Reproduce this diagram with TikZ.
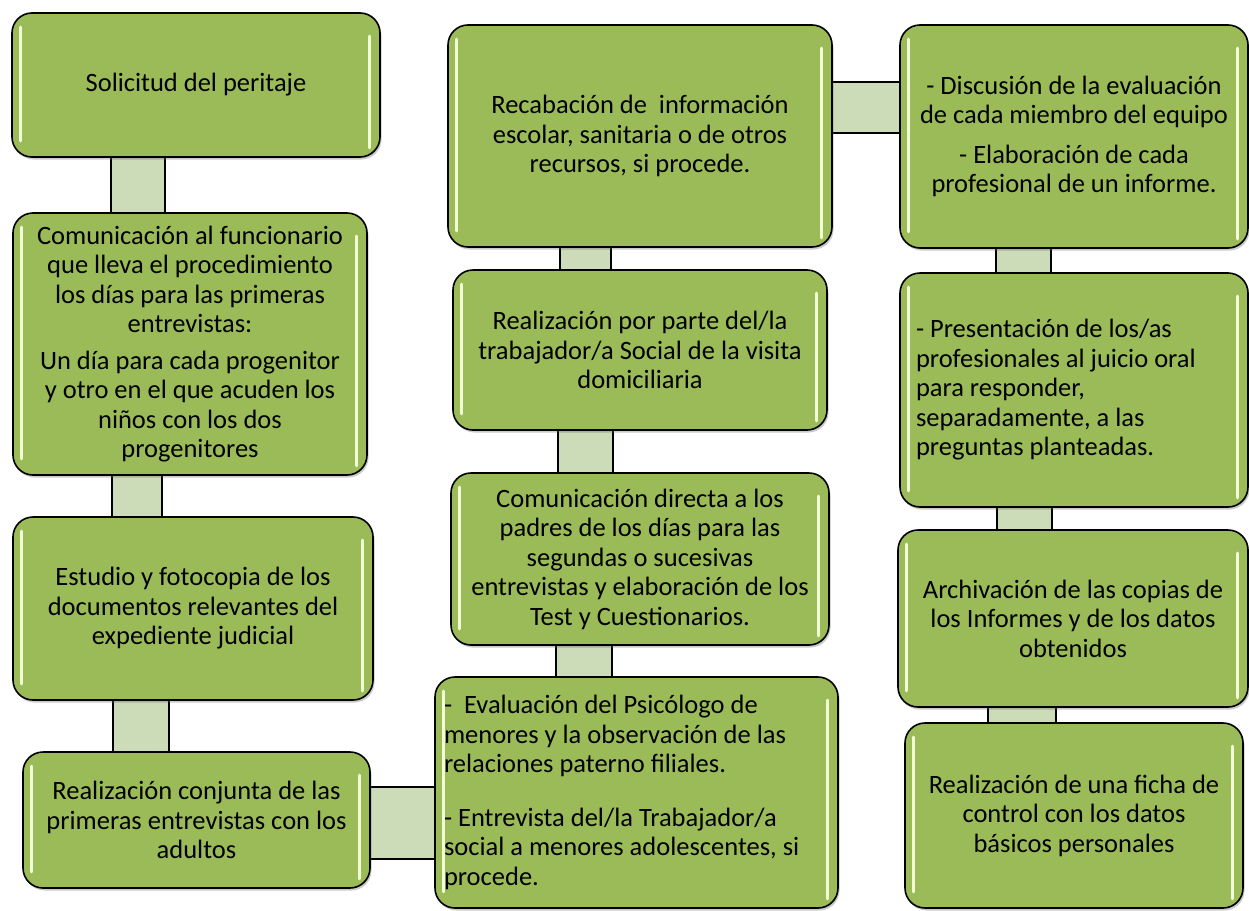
\documentclass[tikz,border=0pt]{standalone}
\usepackage{fontspec}
\setmainfont{Carlito}
\usetikzlibrary{shadows}
\definecolor{boxgreen}{HTML}{9BBB59}
\definecolor{conngreen}{HTML}{CCDBB8}
\definecolor{glow}{HTML}{F2FFD6}
\tikzset{
  box/.style={draw=black, line width=1.6pt, fill=boxgreen, rounded corners=20pt,
    inner sep=0pt, align=center, font=\fontsize{26.5pt}{29.5pt}\selectfont,
    drop shadow={shadow xshift=1.5pt, shadow yshift=-2.5pt, opacity=0.35, fill=black!60}},
  leftbox/.style={box, align=flush left},
  conn/.style={draw=black, line width=1.5pt, fill=conngreen},
  hlbar/.style={draw=glow, line width=3pt, line cap=round}
}
\newcommand\glossbars[1]{%
  \draw[hlbar] ([xshift=9pt,yshift=-15pt]#1.north west) -- ([xshift=9pt,yshift=17pt]#1.south west);
  \draw[hlbar] ([xshift=-11pt,yshift=-24pt]#1.north east) -- ([xshift=-11pt,yshift=10pt]#1.south east);
}
\begin{document}
\begin{tikzpicture}[x=1pt,y=-1pt]
\useasboundingbox (0,0) rectangle (1249,910);
% connectors (drawn first, boxes cover their ends)
\coordinate (cab1) at (111,150); \coordinate (cab2) at (165,220);
\coordinate (cbc1) at (112,470); \coordinate (cbc2) at (162,522);
\coordinate (ccd1) at (113,695); \coordinate (ccd2) at (169,757);
\coordinate (cdi1) at (365,787); \coordinate (cdi2) at (440,859);
\coordinate (cfg1) at (560,242); \coordinate (cfg2) at (611,275);
\coordinate (cgh1) at (558,425); \coordinate (cgh2) at (613,478);
\coordinate (chi1) at (556,640); \coordinate (chi2) at (612,682);
\coordinate (cfj1) at (827,82);  \coordinate (cfj2) at (907,133);
\coordinate (cjk1) at (996,243); \coordinate (cjk2) at (1051,278);
\coordinate (ckl1) at (997,502); \coordinate (ckl2) at (1052,535);
\coordinate (clm1) at (988,702); \coordinate (clm2) at (1056,728);
\foreach \c in {ab,bc,cd,di,fg,gh,hi,fj,jk,kl,lm}
  {\draw[conn] (c\c1) rectangle (c\c2);}

% column 1
\node[box, minimum width=368pt, minimum height=144pt] (a) at (196,85)
  {Solicitud del peritaje};
\node[box, minimum width=354pt, minimum height=262pt] (b) at (190,344)
  {Comunicación al funcionario\\que lleva el procedimiento\\los días para las primeras\\entrevistas:\\[7pt]
   Un día para cada progenitor\\y otro en el que acuden los\\niños con los dos\\progenitores};
\node[box, minimum width=360pt, minimum height=183pt] (c) at (193,608.5)
  {Estudio y fotocopia de los\\documentos relevantes del\\expediente judicial};
\node[box, minimum width=347pt, minimum height=136pt] (d) at (196.5,820)
  {Realización conjunta de las\\primeras entrevistas con los\\adultos};

% column 2
\node[box, minimum width=384pt, minimum height=222pt] (f) at (640,136)
  {Recabación de\ \ información\\escolar, sanitaria o de otros\\recursos, si procede.};
\node[box, minimum width=374pt, minimum height=160pt] (g) at (640,350)
  {Realización por parte del/la\\trabajador/a Social de la visita\\domiciliaria};
\node[box, minimum width=378pt, minimum height=172pt] (h) at (640,559)
  {Comunicación directa a los\\padres de los días para las\\segundas o sucesivas\\entrevistas y elaboración de los\\Test y Cuestionarios.};
\node[leftbox, minimum width=403pt, minimum height=231pt, text width=385pt, inner xsep=9pt] (i) at (636.5,792.5)
  {-\ \ Evaluación del Psicólogo de\\menores y la observación de las\\relaciones paterno filiales.\\[24pt]
   - Entrevista del/la Trabajador/a\\social a menores adolescentes, si\\procede.};

% column 3
\node[box, minimum width=348pt, minimum height=223pt] (j) at (1074,136.5)
  {- Discusión de la evaluación\\de cada miembro del equipo\\[10pt]
   - Elaboración de cada\\profesional de un informe.};
\node[leftbox, minimum width=348pt, minimum height=234pt, text width=316pt, inner xsep=16pt] (k) at (1074,390)
  {- Presentación de los/as\\profesionales al juicio oral\\para responder,\\separadamente, a las\\preguntas planteadas.};
\node[box, minimum width=350pt, minimum height=177pt] (l) at (1073,618.5)
  {Archivación de las copias de\\los Informes y de los datos\\obtenidos};
\node[box, minimum width=338pt, minimum height=185pt] (m) at (1074,815.5)
  {Realización de una ficha de\\control con los datos\\básicos personales};

\foreach \n in {a,b,c,d,f,g,h,i,j,k,l,m} {\glossbars{\n}}
\end{tikzpicture}
\end{document}
